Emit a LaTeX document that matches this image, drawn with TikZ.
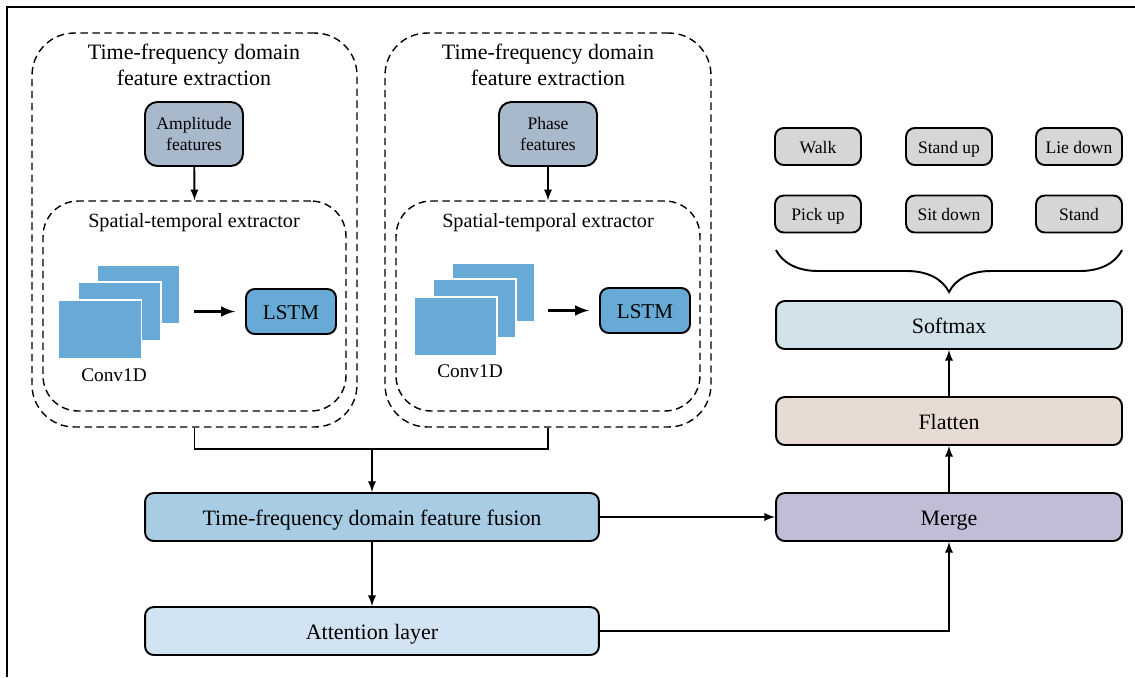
\documentclass[tikz,border=0pt]{standalone}
\usepackage{fontspec}
\setmainfont{Liberation Serif}
\usetikzlibrary{arrows,positioning,decorations.pathreplacing}
\definecolor{featgray}{HTML}{A8B9CC}
\definecolor{convblue}{HTML}{67AAD5}
\definecolor{fuseblue}{HTML}{A7CCE3}
\definecolor{attnblue}{HTML}{D2E3F3}
\definecolor{mergepurple}{HTML}{C0BDD6}
\definecolor{flatbeige}{HTML}{E7DBD3}
\definecolor{softblue}{HTML}{D2E2EA}
\definecolor{clsgray}{HTML}{D6D6D6}

\begin{document}
\begin{tikzpicture}[x=0.02cm, y=-0.02cm, >=latex,
    dashbox/.style={draw, line width=0.8pt, dash pattern=on 4.2pt off 2.6pt, rounded corners=24pt},
    feat/.style={draw, line width=1.1pt, rounded corners=7pt, fill=featgray, minimum width=1.96cm, minimum height=1.28cm, align=center, font=\fontsize{10}{11.5}\selectfont},
    conv/.style={draw=white, line width=0.8pt, fill=convblue, minimum width=1.66cm, minimum height=1.18cm},
    lstm/.style={draw, line width=1.1pt, rounded corners=5pt, fill=convblue, minimum width=1.8cm, minimum height=0.9cm, text height=9pt, text depth=0pt, font=\fontsize{12}{14}\selectfont},
    blk/.style={draw, line width=1.1pt, rounded corners=5pt, minimum height=0.96cm, text height=9.5pt, text depth=0pt, font=\fontsize{12.5}{15}\selectfont},
    cls/.style={draw, line width=1.1pt, rounded corners=5pt, fill=clsgray, minimum width=1.72cm, minimum height=0.74cm, text height=7.5pt, text depth=0pt, font=\fontsize{10}{12}\selectfont},
    title/.style={align=center, font=\fontsize{12.5}{14.8}\selectfont},
    line/.style={line width=1.1pt}
]
    \useasboundingbox (0,0) rectangle (1135,677);
    \draw[line] (7,677) -- (7,7) -- (1135,7);

    % left branch: amplitude
    \node[dashbox, minimum width=6.5cm, minimum height=7.88cm] (extL) at (194.5,230) {};
    \node[title] (titL) at (194,65) {Time-frequency domain\\feature extraction};
    \node[feat] (amp) at (194,134) {Amplitude\\features};
    \node[dashbox, rounded corners=20pt, minimum width=6.06cm, minimum height=4.2cm] (inL) at (194.5,306) {};
    \node[title, font=\fontsize{11.5}{14}\selectfont] (stL) at (194,223) {Spatial-temporal extractor};
    \node[conv] (cvL3) at (138.5,294.5) {};
    \node[conv] (cvL2) at (119.5,311.5) {};
    \node[conv] (cvL1) at (100,329.5) {};
    \node[font=\fontsize{11}{13}\selectfont] (cvLtxt) at (114,375) {Conv1D};
    \node[lstm] (lstmL) at (291,311.5) {LSTM};
    \coordinate (aL) at (194,311.5);

    % right branch: phase
    \node[dashbox, minimum width=6.52cm, minimum height=7.88cm] (extR) at (548,230) {};
    \node[title] (titR) at (548,65) {Time-frequency domain\\feature extraction};
    \node[feat] (pha) at (548,134) {Phase\\features};
    \node[dashbox, rounded corners=20pt, minimum width=6.08cm, minimum height=4.2cm] (inR) at (548,306) {};
    \node[title, font=\fontsize{11.5}{14}\selectfont] (stR) at (548,223) {Spatial-temporal extractor};
    \node[conv] (cvR3) at (493.5,292.5) {};
    \node[conv] (cvR2) at (474.5,308.5) {};
    \node[conv] (cvR1) at (455.5,326.5) {};
    \node[font=\fontsize{11}{13}\selectfont] (cvRtxt) at (470,371) {Conv1D};
    \node[lstm] (lstmR) at (645,310.5) {LSTM};
    \coordinate (aR) at (548,310.5);

    \draw[->, line] (amp) -- (inL.north);
    \draw[->, line] (pha) -- (inR.north);
    \draw[->, line width=1.7pt, shorten >=0.2cm] (aL) -- (lstmL.west);
    \draw[->, line width=1.7pt, shorten >=0.2cm] (aR) -- (lstmR.west);

    % fusion and attention
    \node[blk, fill=fuseblue, minimum width=9.08cm] (fus) at (372,517) {Time-frequency domain feature fusion};
    \node[blk, fill=attnblue, minimum width=9.08cm] (att) at (372,631) {Attention layer};
    \coordinate (jn) at (372,449);
    \draw[line] (extL.south) |- (jn) -| (extR.south);
    \draw[->, line] (jn) -- (fus);
    \draw[->, line] (fus) -- (att);

    % output column
    \node[blk, fill=mergepurple, minimum width=6.92cm] (mrg) at (949,517) {Merge};
    \node[blk, fill=flatbeige, minimum width=6.92cm] (flt) at (949,421) {Flatten};
    \node[blk, fill=softblue, minimum width=6.92cm] (smax) at (949,325) {Softmax};
    \draw[->, line] (fus) -- (mrg);
    \draw[->, line] (att) -| (mrg);
    \draw[->, line] (mrg) -- (flt);
    \draw[->, line] (flt) -- (smax);

    % classes
    \node[cls] (walk) at (818,146.5) {Walk};
    \node[cls] (standup) at (949,146.5) {Stand up};
    \node[cls] (liedown) at (1079,146.5) {Lie down};
    \node[cls] (pickup) at (818,214) {Pick up};
    \node[cls] (sitdown) at (949,214) {Sit down};
    \node[cls] (stand) at (1079,214) {Stand};
    \coordinate (brR) at (1122,250);
    \coordinate (brL) at (776,250);
    \draw[line, decorate, decoration={brace, amplitude=0.84cm}] (brR) -- (brL);
\end{tikzpicture}
\end{document}
